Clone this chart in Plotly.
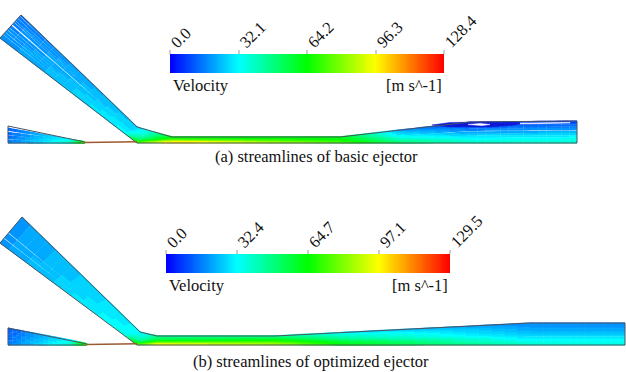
import numpy as np
import plotly.graph_objects as go

W, H = 626, 372
SCALE = [[0, "#0000ff"], [0.25, "#00ffff"], [0.5, "#00ff00"], [0.75, "#ffff00"], [1, "#ff0000"]]

# Colour bars
bar_a_ticks = ["0.0", "32.1", "64.2", "96.3", "128.4"]
bar_a_x = [170, 239, 307, 376, 444]
bar_a_y = [54, 73]
bar_b_ticks = ["0.0", "32.4", "64.7", "97.1", "129.5"]
bar_b_x = [166, 237, 308, 379, 450]
bar_b_y = [254, 273]

# Duct stations: x/y of outer wall, x/y of inner wall, velocity across (fraction of scale)
a_main_top = [(21, 15), (137, 127), (150, 131), (172, 137), (340, 137), (400, 130), (470, 122), (577, 121)]
a_main_bot = [(0, 38), (125, 133.5), (137, 142.6), (172, 142.6), (340, 142.6), (400, 143), (470, 143), (577, 143)]
a_main_vel = [
    [0.11, 0.13, 0.13, 0.14, 0.14],
    [0.20, 0.21, 0.22, 0.24, 0.25],
    [0.28, 0.29, 0.32, 0.38, 0.55],
    [0.47, 0.50, 0.55, 0.64, 0.80],
    [0.47, 0.48, 0.49, 0.52, 0.56],
    [0.14, 0.20, 0.25, 0.31, 0.40],
    [0.02, 0.10, 0.16, 0.24, 0.31],
    [0.05, 0.12, 0.18, 0.25, 0.29],
]
a_main_gaps = [1, 4, 7, 9, 12, 13, 16, 19, 22, 25]
a_prim_top = [(8, 126), (70, 139), (85, 142)]
a_prim_bot = [(8, 143), (70, 143), (85, 142.6)]
a_prim_vel = [[0.09, 0.10, 0.12], [0.24, 0.27, 0.30], [0.45, 0.55, 0.6]]
a_prim_gaps = [0, 1, 2, 6, 7, 8, 12, 13, 18, 19]
a_outline = [[(0, 38), (21, 15), (137, 127), (172, 137), (340, 137), (470, 122), (577, 121), (577, 143), (137, 143), (0, 38)],
             [(8, 143), (8, 126), (85, 142)], [(8, 143), (85, 143)]]
a_vortex_outer_x = [432, 450, 480, 520, 516, 490, 450, 432]
a_vortex_outer_y = [125, 122.5, 122, 122.5, 125, 127, 127, 125]
a_vortex_inner_x = [468, 480, 490, 482, 468]
a_vortex_inner_y = [124.5, 123.5, 124.5, 125.6, 124.5]
a_gap_x = [520, 570, 570, 520]
a_gap_y = [123.2, 122.4, 122.9, 124]

b_main_top = [(22, 217), (140, 332), (148, 334), (157, 336), (275, 336), (350, 332), (530, 323), (625, 323)]
b_main_bot = [(0, 243), (125, 335), (137, 344.6), (157, 344.6), (275, 344.6), (350, 345), (530, 345), (625, 345)]
b_main_vel = [
    [0.15, 0.15, 0.15, 0.15, 0.15],
    [0.24, 0.25, 0.25, 0.26, 0.27],
    [0.28, 0.29, 0.31, 0.38, 0.55],
    [0.36, 0.38, 0.42, 0.56, 0.74],
    [0.33, 0.40, 0.47, 0.56, 0.66],
    [0.20, 0.28, 0.33, 0.42, 0.48],
    [0.13, 0.16, 0.19, 0.24, 0.30],
    [0.13, 0.16, 0.19, 0.24, 0.27],
]
b_main_gaps = [18, 24]
b_prim_top = [(8, 328), (70, 340), (87, 344)]
b_prim_bot = [(8, 345), (70, 345), (87, 344.6)]
b_prim_vel = [[0.08, 0.10, 0.12], [0.23, 0.26, 0.30], [0.45, 0.55, 0.6]]
b_prim_gaps = [2, 4, 7, 10, 14]
b_outline = [[(0, 243), (22, 217), (140, 332), (157, 336), (275, 336), (530, 323), (625, 323), (625, 345), (137, 345), (0, 243)],
             [(8, 345), (8, 328), (87, 344)], [(8, 345), (87, 345)]]

# Captions and labels
cap_a = "(a) streamlines of basic ejector"
cap_b = "(b) streamlines of optimized ejector"
vel_label = "Velocity"
unit_label = "[m s^-1]"

def rgb(v):
    stops = np.array([[0, 0, 255], [0, 255, 255], [0, 255, 0], [255, 255, 0], [255, 0, 0]], float)
    c = [np.interp(v, [0, .25, .5, .75, 1], stops[:, i]) for i in range(3)]
    return "rgb(%d,%d,%d)" % tuple(c)

N_BINS = 48
bins = {i: ([], []) for i in range(N_BINS + 1)}

def add_duct(top, bot, vel, gaps, lines, sub=14):
    top, bot, vel = np.array(top, float), np.array(bot, float), np.array(vel, float)
    prof = np.linspace(0, 1, vel.shape[1])
    for k in range(lines):
        if k in gaps:
            continue
        f = (k + 0.5) / lines
        for s in range(len(top) - 1):
            for j in range(sub):
                t0, t1 = j / sub, (j + 1) / sub
                p0 = (top[s] + (top[s + 1] - top[s]) * t0) * (1 - f) + (bot[s] + (bot[s + 1] - bot[s]) * t0) * f
                p1 = (top[s] + (top[s + 1] - top[s]) * t1) * (1 - f) + (bot[s] + (bot[s + 1] - bot[s]) * t1) * f
                tm = (t0 + t1) / 2
                v = np.interp(f, prof, vel[s] + (vel[s + 1] - vel[s]) * tm)
                xs, ys = bins[int(round(v * N_BINS))]
                xs += [p0[0], p1[0], None]
                ys += [p0[1], p1[1], None]

add_duct(a_main_top, a_main_bot, a_main_vel, a_main_gaps, 30)
add_duct(a_prim_top, a_prim_bot, a_prim_vel, a_prim_gaps, 24)
add_duct(b_main_top, b_main_bot, b_main_vel, b_main_gaps, 30)
add_duct(b_prim_top, b_prim_bot, b_prim_vel, b_prim_gaps, 20)

fig = go.Figure()
for i, (xs, ys) in bins.items():
    if xs:
        fig.add_trace(go.Scatter(x=xs, y=ys, mode="lines", line=dict(color=rgb(i / N_BINS), width=1.8),
                                 hoverinfo="skip", showlegend=False))

def add_poly(x, y, color):
    fig.add_trace(go.Scatter(x=x, y=y, mode="lines", fill="toself", fillcolor=color,
                             line=dict(color=color, width=0.5), hoverinfo="skip", showlegend=False))

add_poly(a_vortex_outer_x, a_vortex_outer_y, "#1018d8")
add_poly(a_vortex_inner_x, a_vortex_inner_y, "#ffffff")
add_poly(a_gap_x, a_gap_y, "#ffffff")

for outline in (a_outline, b_outline):
    for path in outline:
        fig.add_trace(go.Scatter(x=[p[0] for p in path], y=[p[1] for p in path], mode="lines",
                                 line=dict(color="#4a5560", width=1), hoverinfo="skip", showlegend=False))

# thin primary-nozzle throat walls (brown in the reference)
for xw, yw in (([85, 137], [142.4, 141.8]), ([87, 137], [344.4, 343.8])):
    fig.add_trace(go.Scatter(x=xw, y=yw, mode="lines", line=dict(color="#9a5a30", width=1.5),
                             hoverinfo="skip", showlegend=False))

for xt, yr in ((bar_a_x, bar_a_y), (bar_b_x, bar_b_y)):
    edges = np.linspace(xt[0], xt[-1], 301)
    z = np.linspace(0, 1, 300)
    fig.add_trace(go.Heatmap(x=edges, y=yr + [yr[1]], z=[z], colorscale=SCALE, zmin=0, zmax=1,
                             showscale=False, hoverinfo="skip"))
    for tx in xt:
        fig.add_shape(type="line", x0=tx, x1=tx, y0=yr[0] - 4, y1=yr[0], line=dict(color="#999999", width=1))

font = dict(family="Liberation Serif", size=16.5, color="#111111")
for xt, yr, ticks in ((bar_a_x, bar_a_y, bar_a_ticks), (bar_b_x, bar_b_y, bar_b_ticks)):
    for tx, tick in zip(xt, ticks):
        fig.add_annotation(x=tx, y=yr[0] - 3, text=tick, textangle=-45, showarrow=False, font=font,
                           xanchor="left", yanchor="bottom", xshift=-6, yshift=-3)
    fig.add_annotation(x=xt[0] + 1, y=yr[1] + 12, text=vel_label, showarrow=False, font=font, xanchor="left", yanchor="middle")
    fig.add_annotation(x=xt[-1], y=yr[1] + 12, text=unit_label, showarrow=False, font=font, xanchor="right", yanchor="middle")

fig.add_annotation(x=316, y=156, text=cap_a, showarrow=False, font=font, xanchor="center", yanchor="middle")
fig.add_annotation(x=311, y=361, text=cap_b, showarrow=False, font=font, xanchor="center", yanchor="middle")

fig.update_layout(width=W, height=H, margin=dict(l=0, r=0, t=0, b=0), plot_bgcolor="white", paper_bgcolor="white",
                  showlegend=False,
                  xaxis=dict(range=[0, W], visible=False, fixedrange=True),
                  yaxis=dict(range=[H, 0], visible=False, fixedrange=True))
fig.write_html("out.html", config=dict(displayModeBar=False),
               post_script="document.body.style.margin='0';document.body.style.overflow='hidden';")
